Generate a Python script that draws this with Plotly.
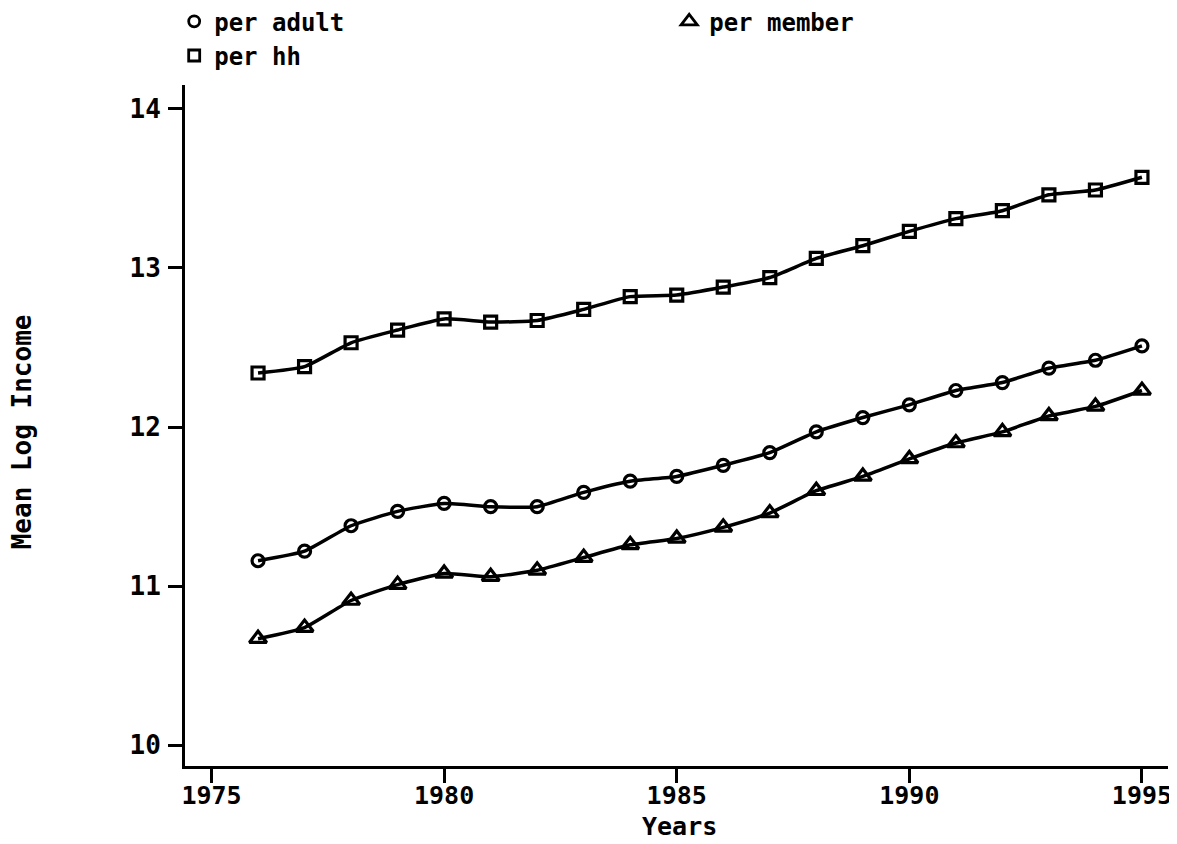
import plotly.graph_objects as go

years = list(range(1976, 1996))
per_adult = [11.16, 11.22, 11.38, 11.47, 11.52, 11.50, 11.50, 11.59, 11.66, 11.69,
             11.76, 11.84, 11.97, 12.06, 12.14, 12.23, 12.28, 12.37, 12.42, 12.51]
per_hh = [12.34, 12.38, 12.53, 12.61, 12.68, 12.66, 12.67, 12.74, 12.82, 12.83,
          12.88, 12.94, 13.06, 13.14, 13.23, 13.31, 13.36, 13.46, 13.49, 13.57]
per_member = [10.67, 10.74, 10.91, 11.01, 11.08, 11.06, 11.10, 11.18, 11.26, 11.30,
              11.37, 11.46, 11.60, 11.69, 11.80, 11.90, 11.97, 12.07, 12.13, 12.23]
x_ticks = [1975, 1980, 1985, 1990, 1995]
y_ticks = [10, 11, 12, 13, 14]

FONT = "DejaVu Sans Mono"
fig = go.Figure()

series = [("per adult", per_adult, "circle-open", 12),
          ("per member", per_member, "triangle-up-open", 15),
          ("per hh", per_hh, "square-open", 12)]

for name, ys, symbol, size in series:
    fig.add_trace(go.Scatter(
        x=years, y=ys, name=name, mode="lines+markers", showlegend=False,
        line=dict(color="black", width=3.5, shape="spline", smoothing=0.5),
        marker=dict(symbol=symbol, size=size, color="black",
                    line=dict(color="black", width=3.2)),
    ))

# legend-only entries (markers without lines, as in the reference key)
for name, ys, symbol, size in series:
    fig.add_trace(go.Scatter(
        x=[None], y=[None], name=name, mode="markers", showlegend=True,
        marker=dict(symbol=symbol, size=size - 1, color="black",
                    line=dict(color="black", width=2.8)),
    ))

fig.update_layout(
    width=1169, height=836,
    paper_bgcolor="white", plot_bgcolor="white",
    margin=dict(l=177, r=9, t=77, b=78, autoexpand=False),
    font=dict(family=FONT, size=24, color="black", weight="bold"),
    showlegend=True,
    legend=dict(orientation="h", x=-0.011, xanchor="left", y=1.126, yanchor="top",
                entrywidth=450, entrywidthmode="pixels",
                font=dict(family=FONT, size=24, color="black", weight="bold"),
                tracegroupgap=0, itemwidth=30),
    xaxis=dict(range=[1974.43, 1995.56], tickvals=x_ticks, ticktext=[str(v) for v in x_ticks],
               showgrid=False, zeroline=False, showline=True, linecolor="black", linewidth=3,
               ticks="outside", ticklen=14, tickwidth=3, tickcolor="black",
               ticklabelstandoff=-9, ticklabeloverflow="allow",
               tickfont=dict(family=FONT, size=25, weight="bold")),
    yaxis=dict(range=[9.87, 14.15], tickvals=y_ticks, ticktext=[str(v) for v in y_ticks],
               showgrid=False, zeroline=False, showline=True, linecolor="black", linewidth=3,
               ticks="outside", ticklen=14, tickwidth=3, tickcolor="black",
               ticklabelstandoff=2,
               tickfont=dict(family=FONT, size=26, weight="bold")),
    annotations=[
        dict(text="Mean Log Income", xref="paper", yref="paper", x=-0.1658, y=0.49,
             textangle=-90, showarrow=False, xanchor="center", yanchor="middle",
             font=dict(family=FONT, size=26, weight="bold")),
        dict(text="Years", xref="paper", yref="paper", x=0.503, y=-0.089,
             showarrow=False, xanchor="center", yanchor="middle",
             font=dict(family=FONT, size=25, weight="bold")),
    ],
)

fig.write_html("out.html")
